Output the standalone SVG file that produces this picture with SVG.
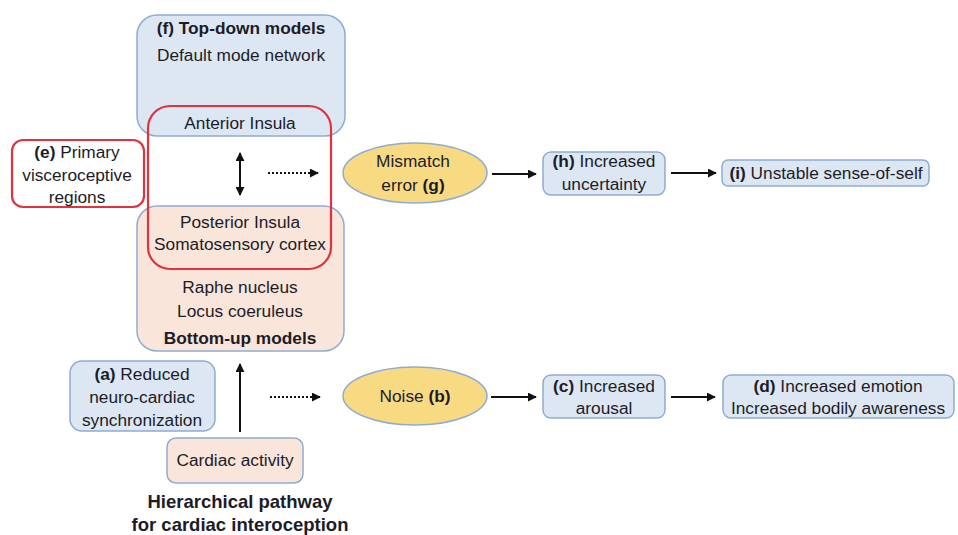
<svg xmlns="http://www.w3.org/2000/svg" width="958" height="535" viewBox="0 0 958 535">
<defs>
<style>
text{font-family:"Liberation Sans",Arial,sans-serif;font-size:17.3px;fill:#1c1c28;text-anchor:middle}
.b{font-weight:bold}
.blue{fill:#dde7f3;stroke:#8eacd2;stroke-width:1.5}
.peach{fill:#f9e5da;stroke:#8eacd2;stroke-width:1.5}
.red{fill:none;stroke:#e3313d;stroke-width:2.2}
.ell{fill:#f8da82;stroke:#8eacd2;stroke-width:1.5}
.ln{stroke:#111;stroke-width:2;fill:none}
.dot{stroke:#111;stroke-width:2;fill:none;stroke-dasharray:2 2}
.title{font-size:18.5px;font-weight:bold}
</style>
<marker id="ah" viewBox="0 0 10 10" refX="9" refY="5" markerWidth="4.5" markerHeight="4.5" orient="auto-start-reverse">
<path d="M0,0 L10,5 L0,10 z" fill="#111"/>
</marker>
</defs>
<rect width="958" height="535" fill="#fff"/>

<g id="topdown">
<rect class="blue" x="137" y="15" width="208" height="121" rx="20"/>
<text x="241" y="34" class="b">(f) Top-down models</text>
<text x="241" y="61">Default mode network</text>
<text x="240" y="129">Anterior Insula</text>
</g>

<g id="bottomup">
<rect class="peach" x="137" y="206" width="207" height="145" rx="20"/>
<text x="240" y="228">Posterior Insula</text>
<text x="240" y="250">Somatosensory cortex</text>
<text x="240" y="293">Raphe nucleus</text>
<text x="240" y="317">Locus coeruleus</text>
<text x="240" y="344" class="b">Bottom-up models</text>
</g>

<g id="redbox">
<rect class="red" x="148" y="106" width="183" height="163" rx="22"/>
</g>

<g id="e">
<rect x="12" y="140" width="132" height="67" rx="11" fill="#fff" stroke="#e3313d" stroke-width="2.2"/>
<text x="77" y="158"><tspan class="b">(e)</tspan> Primary</text>
<text x="77" y="181">visceroceptive</text>
<text x="77" y="203">regions</text>
</g>

<g id="g">
<ellipse class="ell" cx="415" cy="173" rx="72" ry="30"/>
<text x="413" y="167">Mismatch</text>
<text x="413" y="191">error <tspan class="b">(g)</tspan></text>
</g>

<g id="h">
<rect class="blue" x="543" y="152" width="122" height="43" rx="8"/>
<text x="604" y="167"><tspan class="b">(h)</tspan> Increased</text>
<text x="604" y="190">uncertainty</text>
</g>

<g id="i">
<rect class="blue" x="722" y="160" width="207" height="26" rx="6"/>
<text x="826" y="179"><tspan class="b">(i)</tspan> Unstable sense-of-self</text>
</g>

<g id="a">
<rect class="blue" x="70" y="361" width="145" height="70" rx="12"/>
<text x="142" y="380"><tspan class="b">(a)</tspan> Reduced</text>
<text x="142" y="403">neuro-cardiac</text>
<text x="142" y="426">synchronization</text>
</g>

<g id="b">
<ellipse class="ell" cx="415" cy="396" rx="72" ry="29"/>
<text x="415" y="402">Noise <tspan class="b">(b)</tspan></text>
</g>

<g id="c">
<rect class="blue" x="543" y="375" width="122" height="43" rx="8"/>
<text x="604" y="392"><tspan class="b">(c)</tspan> Increased</text>
<text x="604" y="414">arousal</text>
</g>

<g id="d">
<rect class="blue" x="723" y="375" width="231" height="43" rx="8"/>
<text x="838" y="392"><tspan class="b">(d)</tspan> Increased emotion</text>
<text x="838" y="414">Increased bodily awareness</text>
</g>

<g id="cardiac">
<rect class="peach" x="167" y="438" width="136" height="45" rx="9"/>
<text x="235" y="466">Cardiac activity</text>
</g>

<g id="caption">
<text x="240" y="508" class="title">Hierarchical pathway</text>
<text x="240" y="531" class="title">for cardiac interoception</text>
</g>

<g id="connectors">
<line class="ln" x1="240" y1="153" x2="240" y2="195" marker-start="url(#ah)" marker-end="url(#ah)"/>
<line class="dot" x1="268" y1="173" x2="318" y2="173" marker-end="url(#ah)"/>
<line class="ln" x1="492" y1="174" x2="536" y2="174" marker-end="url(#ah)"/>
<line class="ln" x1="671" y1="173" x2="716" y2="173" marker-end="url(#ah)"/>
<line class="ln" x1="240" y1="432" x2="240" y2="364" marker-end="url(#ah)"/>
<line class="dot" x1="270" y1="397" x2="320" y2="397" marker-end="url(#ah)"/>
<line class="ln" x1="491" y1="397" x2="536" y2="397" marker-end="url(#ah)"/>
<line class="ln" x1="671" y1="397" x2="715" y2="397" marker-end="url(#ah)"/>
</g>
</svg>
